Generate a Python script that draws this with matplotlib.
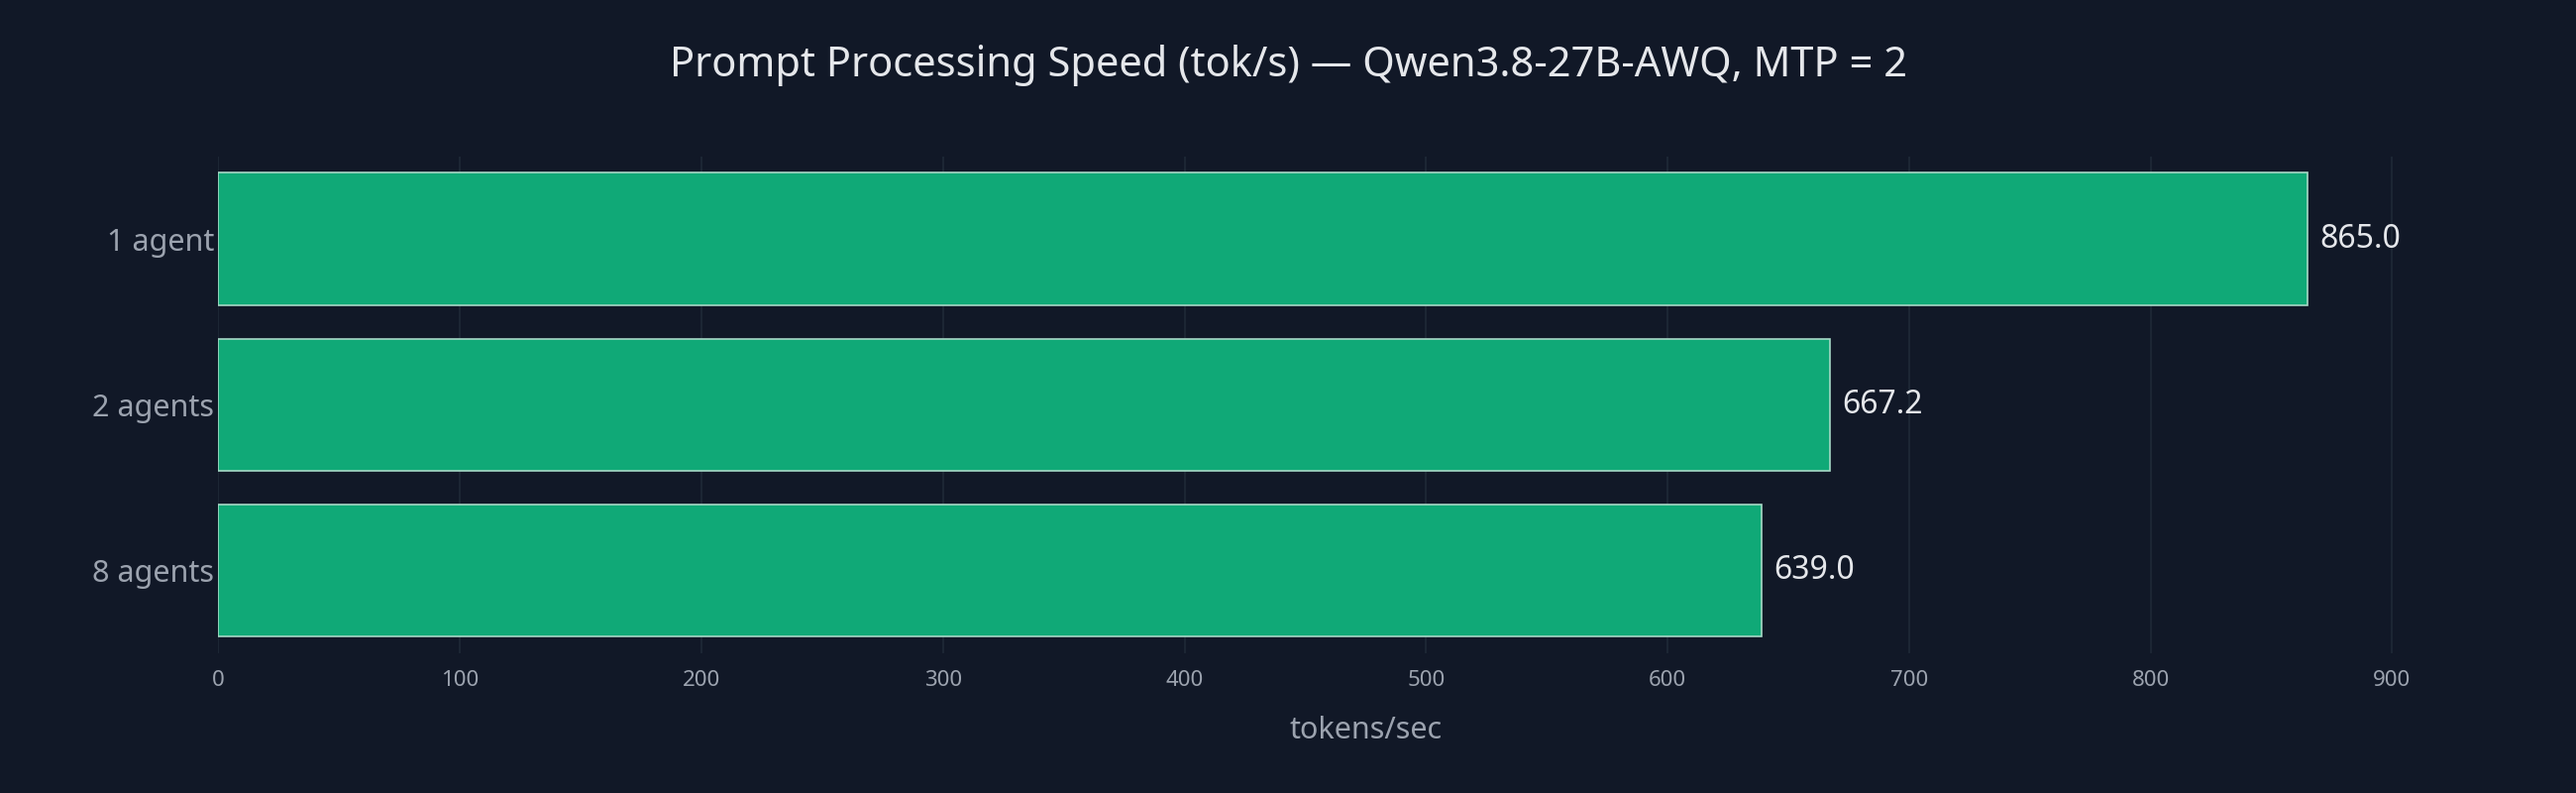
import matplotlib
matplotlib.use("Agg")
import matplotlib.pyplot as plt

categories = ["1 agent", "2 agents", "8 agents"]
values = [865.0, 667.2, 639.0]
xticks = [0, 100, 200, 300, 400, 500, 600, 700, 800, 900]

plt.rcParams['font.family'] = ['Noto Sans', 'DejaVu Sans']
bg = "#111827"
fig = plt.figure(figsize=(26, 8), dpi=100, facecolor=bg)
ax = fig.add_axes([0.0848, 0.176, 0.8907, 0.627], facecolor=bg)

ypos = list(range(len(categories)))
bars = ax.barh(ypos, values, height=0.8, color="#10a977", edgecolor="#a7d8c6", linewidth=1.2, zorder=3)
for y, v in zip(ypos, values):
    ax.text(v + 5, y, f"{v:.1f}", va="center", ha="left", color="#e5e7eb", fontsize=23)

ax.set_ylim(2.5, -0.5)
ax.set_xlim(0, 950)
ax.set_yticks(ypos)
ax.set_yticklabels(categories, fontsize=22, color="#9ca3af")
ax.set_xticks(xticks)
ax.set_xticklabels([str(t) for t in xticks], fontsize=16, color="#9ca3af")
ax.tick_params(length=0, pad=3)
ax.tick_params(axis='x', pad=12)
ax.grid(axis='x', color="#1f2937", linewidth=1.2, zorder=0)
for s in ax.spines.values():
    s.set_visible(False)
ax.set_xlabel("tokens/sec", fontsize=22, color="#9ca3af", labelpad=18)
fig.text(0.5, 0.918, "Prompt Processing Speed (tok/s) — Qwen3.8-27B-AWQ, MTP = 2",
         ha="center", va="center", fontsize=30, color="#e5e7eb")
fig.savefig("out.png", facecolor=bg)
